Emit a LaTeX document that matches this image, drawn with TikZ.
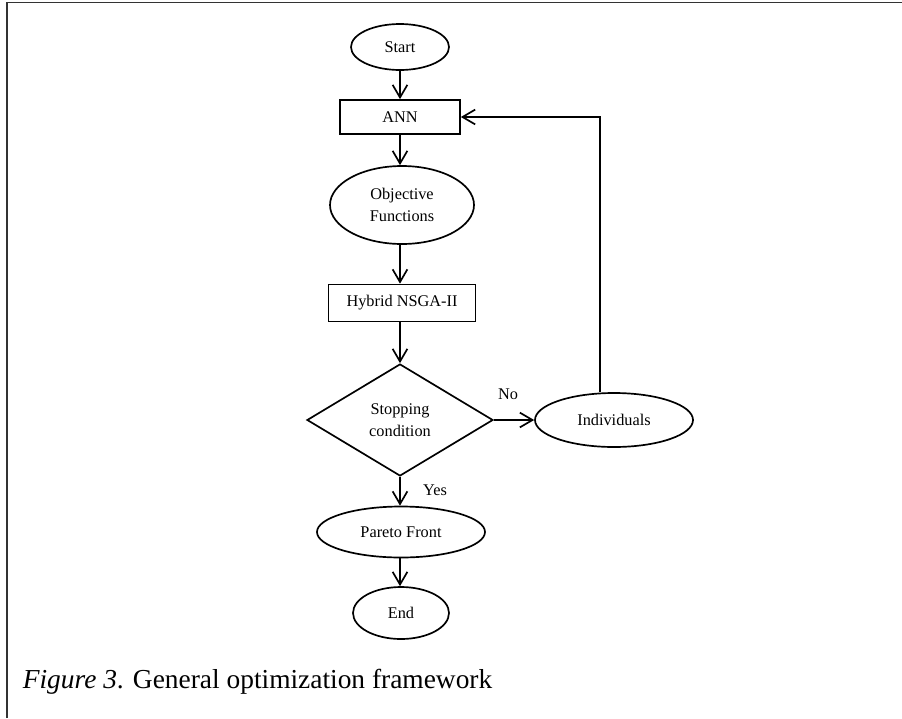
\documentclass[tikz,border=0pt]{standalone}
\usepackage{fontspec}
\setmainfont{Liberation Serif}
\usetikzlibrary{shapes.geometric,arrows.meta}

\begin{document}
\begin{tikzpicture}[
        line width=1.2pt,
        flow/.style={draw, font=\fontsize{11.6}{15.6}\selectfont, inner sep=0pt, align=center},
        oval/.style={flow, ellipse},
        box/.style={flow, rectangle},
        test/.style={flow, diamond},
        arr/.style={-{Straight Barb[length=9pt,width=10.5pt]}},
        lbl/.style={font=\fontsize{11.6}{14}\selectfont}
    ]
            \useasboundingbox (0,0) rectangle (22.55,-17.95);
            \draw[black!80] (0.18,-17.95)--(0.18,-0.06)--(22.55,-0.06);
            \node[oval, minimum width=2.45cm, minimum height=1.15cm] (start) at (10,-1.175) {Start};
            \node[box, minimum width=3cm, minimum height=0.85cm] (ann) at (10,-2.925) {ANN};
            \node[oval, minimum width=3.6cm, minimum height=1.95cm] (obj) at (10.05,-5.125) {Objective\\Functions};
            \node[box, minimum width=3.675cm, minimum height=0.925cm] (nsga) at (10.05,-7.575) {Hybrid NSGA-II};
            \node[test, minimum width=4.65cm, minimum height=2.8cm] (cond) at (10,-10.5) {Stopping\\condition};
            \node[oval, minimum width=3.95cm, minimum height=1.35cm] (ind) at (15.35,-10.5) {Individuals};
            \node[oval, minimum width=4.2cm, minimum height=1.275cm] (pareto) at (10.025,-13.3) {Pareto Front};
            \node[oval, minimum width=2.4cm, minimum height=1.3cm] (end) at (10.025,-15.325) {End};
            \coordinate (turn) at (15,-2.925);
            \draw[arr] (start) -- (ann);
            \draw[arr] (ann) -- (ann |- obj.north);
            \draw[arr] (ann |- obj.south) -- (ann |- nsga.north);
            \draw[arr] (ann |- nsga.south) -- (cond);
            \draw[arr] (cond) -- (ann |- pareto.north);
            \draw[arr] (ann |- pareto.south) -- (ann |- end.north);
            \draw[arr] (cond.east) -- (ind.west);
            \draw[arr] (turn |- ind.north) -- (turn) -- (ann.east);
            \node[lbl] (no) at (12.7,-9.85) {No};
            \node[lbl] (yes) at (10.875,-12.25) {Yes};
            \node[anchor=base west, inner sep=0pt, font=\fontsize{19.5}{24}\selectfont] (caption) at (0.55,-17.2) {\textit{Figure 3}. General optimization framework};
        \end{tikzpicture}
\end{document}
